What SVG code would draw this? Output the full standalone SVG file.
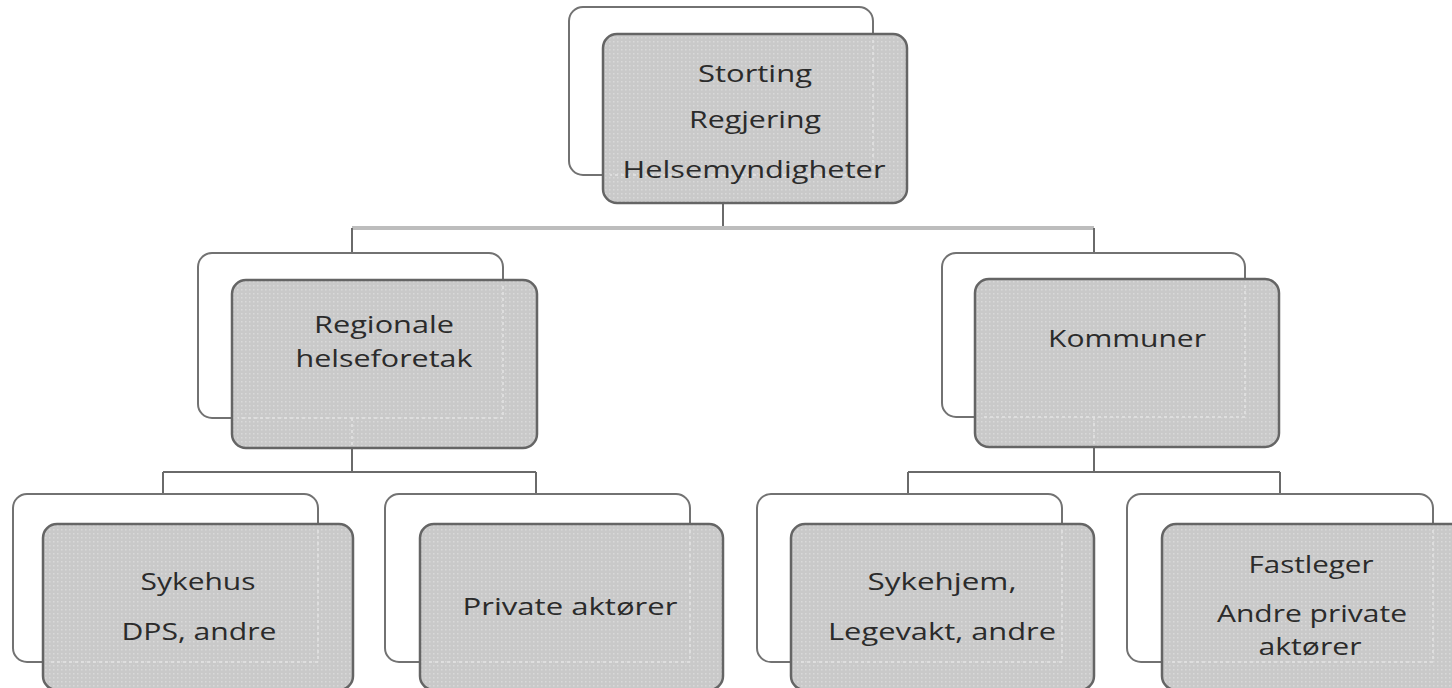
<svg xmlns="http://www.w3.org/2000/svg" width="1452" height="688" viewBox="0 0 1452 688">
<defs>
<pattern id="dots" width="4" height="4" patternUnits="userSpaceOnUse">
<rect width="4" height="4" fill="#c9c9c9"/>
<rect x="1" y="1" width="1.5" height="1.5" fill="#d9d9d9"/>
</pattern>
</defs>
<style>
.back{fill:#ffffff;stroke:#727272;stroke-width:2}
.front{fill:url(#dots);stroke:#656565;stroke-width:2.5}
.ghost{fill:none;stroke:#e4e4e4;stroke-width:1.5;stroke-dasharray:3 3}
.conn{fill:none;stroke:#6a6a6a;stroke-width:2}
.conn-light{fill:none;stroke:#bdbdbd;stroke-width:4}
.lbl{font-family:"Open Sans","Liberation Sans",sans-serif;font-size:24px;fill:#2b2b2b;text-anchor:middle}
</style>
<rect width="1452" height="688" fill="#ffffff"/>

<g id="connectors">
<path class="conn" d="M723 203 V228"/>
<path class="conn-light" d="M352 228 H1094"/>
<path class="conn" d="M352 228 V253 M1094 228 V253"/>
<path class="conn" d="M352 448 V472 M163 472 H536 M163 472 V494 M536 472 V494"/>
<path class="conn" d="M1094 447 V472 M908 472 H1280 M908 472 V494 M1280 472 V494"/>
</g>

<g id="node-top">
<rect class="back" x="569" y="7" width="304" height="168" rx="14"/>
<rect class="front" x="603" y="34" width="304" height="169" rx="14"/>
<path class="ghost" d="M873 40 V175 H610"/>
<text class="lbl" x="755" y="82" textLength="114" lengthAdjust="spacingAndGlyphs">Storting</text>
<text class="lbl" x="755" y="128" textLength="132" lengthAdjust="spacingAndGlyphs">Regjering</text>
<text class="lbl" x="754" y="178" textLength="263" lengthAdjust="spacingAndGlyphs">Helsemyndigheter</text>
</g>

<g id="node-regionale">
<rect class="back" x="198" y="253" width="305" height="165" rx="14"/>
<rect class="front" x="232" y="280" width="305" height="168" rx="14"/>
<path class="ghost" d="M503 286 V418 H238 M352 418 V448"/>
<text class="lbl" x="384" y="333" textLength="140" lengthAdjust="spacingAndGlyphs">Regionale</text>
<text class="lbl" x="384" y="367" textLength="177" lengthAdjust="spacingAndGlyphs">helseforetak</text>
</g>

<g id="node-kommuner">
<rect class="back" x="942" y="253" width="303" height="164" rx="14"/>
<rect class="front" x="975" y="279" width="304" height="168" rx="14"/>
<path class="ghost" d="M1245 285 V417 H981 M1094 417 V447"/>
<text class="lbl" x="1127" y="347" textLength="158" lengthAdjust="spacingAndGlyphs">Kommuner</text>
</g>

<g id="node-sykehus">
<rect class="back" x="13" y="494" width="305" height="168" rx="14"/>
<rect class="front" x="43" y="524" width="310" height="166" rx="14"/>
<path class="ghost" d="M318 530 V662 H49"/>
<text class="lbl" x="198" y="590" textLength="115" lengthAdjust="spacingAndGlyphs">Sykehus</text>
<text class="lbl" x="199" y="640" textLength="155" lengthAdjust="spacingAndGlyphs">DPS, andre</text>
</g>

<g id="node-private">
<rect class="back" x="385" y="494" width="305" height="168" rx="14"/>
<rect class="front" x="420" y="524" width="303" height="166" rx="14"/>
<path class="ghost" d="M690 530 V662 H426"/>
<text class="lbl" x="570" y="615" textLength="215" lengthAdjust="spacingAndGlyphs">Private aktører</text>
</g>

<g id="node-sykehjem">
<rect class="back" x="757" y="494" width="305" height="168" rx="14"/>
<rect class="front" x="791" y="524" width="303" height="166" rx="14"/>
<path class="ghost" d="M1062 530 V662 H797"/>
<text class="lbl" x="942" y="590" textLength="149" lengthAdjust="spacingAndGlyphs">Sykehjem,</text>
<text class="lbl" x="942" y="640" textLength="228" lengthAdjust="spacingAndGlyphs">Legevakt, andre</text>
</g>

<g id="node-fastleger">
<rect class="back" x="1127" y="494" width="306" height="168" rx="14"/>
<rect class="front" x="1162" y="524" width="304" height="166" rx="14"/>
<path class="ghost" d="M1433 530 V662 H1168"/>
<text class="lbl" x="1311" y="573" textLength="125" lengthAdjust="spacingAndGlyphs">Fastleger</text>
<text class="lbl" x="1312" y="622" textLength="190" lengthAdjust="spacingAndGlyphs">Andre private</text>
<text class="lbl" x="1310" y="655" textLength="103" lengthAdjust="spacingAndGlyphs">aktører</text>
</g>
</svg>
